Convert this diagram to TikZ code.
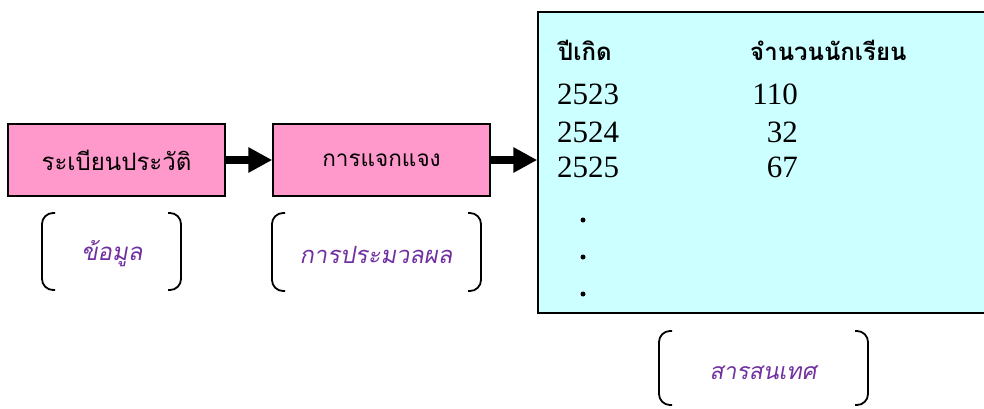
\documentclass[tikz,border=0pt]{standalone}
\usepackage{fontspec}
\setmainfont{Liberation Serif}
\newfontfamily\thai[Script=Thai]{Loma}
\newfontfamily\thaiit[Script=Thai,FakeSlant=0.18]{Loma}
\usetikzlibrary{arrows.meta}
\definecolor{boxpink}{HTML}{FF99CC}
\definecolor{boxcyan}{HTML}{CCFFFF}
\definecolor{labpurple}{HTML}{7030A0}
\tikzset{
  stagebox/.style={draw=black, line width=1.5pt, fill=boxpink, minimum width=217pt, minimum height=72pt, inner sep=0pt},
  infobox/.style={draw=black, line width=1.5pt, fill=boxcyan, minimum width=452pt, minimum height=301pt, inner sep=0pt},
  bigarrow/.style={line width=8pt, -{Triangle[length=24pt,width=24pt]}},
  bracketline/.style={line width=1.8pt, rounded corners=11pt},
  lab/.style={text=labpurple, inner sep=0pt},
  hdr/.style={anchor=base west, inner sep=0pt},
  num/.style={inner sep=0pt, font=\fontsize{31}{36}\selectfont},
  dotmark/.style={fill=black, circle, inner sep=0pt, minimum size=5pt}
}
\begin{document}
\begin{tikzpicture}[x=1pt, y=-1pt]
\useasboundingbox (0,0) rectangle (984,408);
% boxes
\node[stagebox, font=\thai\fontsize{24}{28}\selectfont] (b1) at (116.5,160) {ระเบียนประวัติ};
\node[stagebox, font=\thai\fontsize{22.5}{27}\selectfont] (b2) at (381.5,160) {การแจกแจง};
\node[infobox] (b3) at (764,162.5) {};
% arrows
\draw[bigarrow] (b1.east) -- (b2.west);
\draw[bigarrow] (b2.east) -- (b2.east -| b3.west);
% table
\node[hdr, font=\thai\bfseries\fontsize{24}{28}\selectfont] (h1) at (558,60) {ปีเกิด};
\node[hdr, font=\thai\bfseries\fontsize{24}{28}\selectfont] (h2) at (750,60) {จำนวนนักเรียน};
\node[num, anchor=base west] (y1) at (557,104) {2523};
\node[num, anchor=base west] (y2) at (557,142) {2524};
\node[num, anchor=base west] (y3) at (557,177) {2525};
\node[num, anchor=base east] (n1) at (798,104) {110};
\node[num, anchor=base east] (n2) at (798,142) {32};
\node[num, anchor=base east] (n3) at (798,177) {67};
\node[dotmark] (d1) at (583,220) {};
\node[dotmark] (d2) at (583,257) {};
\node[dotmark] (d3) at (583,294) {};
% brackets and labels
\draw[bracketline] (55,213) -- (42,213) -- (42,290) -- (55,290);
\draw[bracketline] (168,213) -- (181,213) -- (181,290) -- (168,290);
\node[lab, font=\thaiit\fontsize{24}{28}\selectfont] (l1) at (112,254) {ข้อมูล};
\draw[bracketline] (285,213) -- (272,213) -- (272,291) -- (285,291);
\draw[bracketline] (468,213) -- (481,213) -- (481,291) -- (468,291);
\node[lab, font=\thaiit\fontsize{23.7}{28}\selectfont] (l2) at (376,255) {การประมวลผล};
\draw[bracketline] (672,331) -- (659,331) -- (659,405) -- (672,405);
\draw[bracketline] (855,331) -- (868,331) -- (868,405) -- (855,405);
\node[lab, font=\thaiit\fontsize{23}{28}\selectfont] (l3) at (763,373) {สารสนเทศ};
\end{tikzpicture}
\end{document}
